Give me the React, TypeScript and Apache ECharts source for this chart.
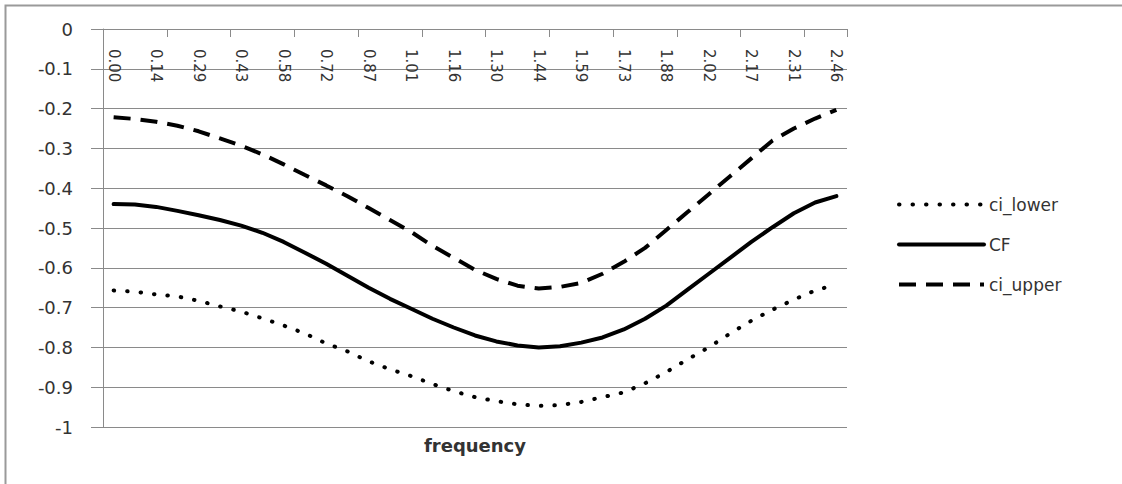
import React, { useEffect, useRef } from "react";
import * as echarts from "echarts";

const categories = [
  "0.00", "0.07", "0.14", "0.22", "0.29", "0.36", "0.43", "0.51", "0.58", "0.65",
  "0.72", "0.79", "0.87", "0.94", "1.01", "1.08", "1.16", "1.23", "1.30", "1.37",
  "1.44", "1.52", "1.59", "1.66", "1.73", "1.81", "1.88", "1.95", "2.02", "2.10",
  "2.17", "2.24", "2.31", "2.38", "2.46",
];

const ciLower = [
  -0.657, -0.66, -0.667, -0.672, -0.683, -0.697, -0.71, -0.727, -0.745, -0.765,
  -0.79, -0.81, -0.835, -0.855, -0.872, -0.892, -0.91, -0.925, -0.935, -0.943,
  -0.947, -0.945, -0.937, -0.925, -0.913, -0.89, -0.862, -0.83, -0.8, -0.765,
  -0.733, -0.705, -0.68, -0.657, -0.642,
];

const cf = [
  -0.44, -0.441, -0.447, -0.457, -0.468, -0.48, -0.494, -0.512, -0.535, -0.562,
  -0.59, -0.62, -0.65, -0.678, -0.703, -0.728, -0.75, -0.77, -0.785, -0.795,
  -0.8, -0.797, -0.788, -0.775, -0.755, -0.728, -0.695, -0.655, -0.615, -0.575,
  -0.535, -0.498, -0.463, -0.436, -0.42,
];

const ciUpper = [
  -0.222, -0.226, -0.233, -0.243, -0.257, -0.275, -0.293, -0.315, -0.34, -0.367,
  -0.393, -0.42, -0.45, -0.48, -0.51, -0.545, -0.575, -0.605, -0.628, -0.645,
  -0.652, -0.648, -0.638, -0.615, -0.585, -0.55, -0.505, -0.46, -0.415, -0.37,
  -0.325, -0.28, -0.25, -0.225, -0.203,
];

const FONT = "DejaVu Sans";
const GRID_COLOR = "#8a8a8a";
const TEXT_COLOR = "#333333";

export default function App() {
  const ref = useRef<HTMLDivElement>(null);

  useEffect(() => {
    if (!ref.current) return;
    const chart = echarts.init(ref.current, null, { renderer: "svg" });
    chart.setOption({
      animation: false,
      backgroundColor: "#ffffff",
      grid: { left: 103, right: 275, top: 29, bottom: 57, containLabel: false },
      xAxis: {
        type: "category",
        data: categories,
        position: "top",
        boundaryGap: true,
        axisLine: { show: true, onZero: false, lineStyle: { color: GRID_COLOR, width: 1 } },
        axisTick: { show: true, inside: true, length: 8, interval: 2, lineStyle: { color: GRID_COLOR } },
        axisLabel: {
          show: true,
          inside: true,
          rotate: 90,
          interval: 1,
          margin: 20,
          fontFamily: FONT,
          fontSize: 15,
          color: TEXT_COLOR,
        },
        splitLine: { show: false },
      },
      yAxis: {
        type: "value",
        min: -1,
        max: 0,
        interval: 0.1,
        axisLine: { show: true, lineStyle: { color: GRID_COLOR, width: 1 } },
        axisTick: { show: true, length: 12, lineStyle: { color: GRID_COLOR } },
        axisLabel: { margin: 30, fontFamily: FONT, fontSize: 18, color: TEXT_COLOR },
        splitLine: { show: true, lineStyle: { color: GRID_COLOR, width: 1 } },
      },
      legend: {
        orient: "vertical",
        left: 892,
        top: 191,
        itemWidth: 85,
        itemHeight: 14,
        itemGap: 23,
        itemStyle: { opacity: 0 },
        lineStyle: { width: 4 },
        textStyle: { fontFamily: FONT, fontSize: 17, color: TEXT_COLOR },
        data: ["ci_lower", "CF", "ci_upper"],
      },
      graphic: [
        {
          type: "rect",
          shape: { x: 5.5, y: 5.5, width: 1200, height: 600 },
          style: { fill: "none", stroke: "#9a9a9a", lineWidth: 2 },
          silent: true,
        },
        {
          type: "text",
          x: 475,
          y: 445,
          style: {
            text: "frequency",
            fontFamily: FONT,
            fontSize: 18,
            fontWeight: "bold",
            fill: TEXT_COLOR,
            align: "center",
            verticalAlign: "middle",
          },
        },
      ],
      series: [
        {
          name: "ci_lower",
          type: "line",
          data: ciLower,
          symbol: "none",
          lineStyle: { color: "#000", width: 4, type: [0.5, 13], cap: "round" },
          itemStyle: { color: "#000" },
        },
        {
          name: "CF",
          type: "line",
          data: cf,
          symbol: "none",
          lineStyle: { color: "#000", width: 4, type: "solid", cap: "round" },
          itemStyle: { color: "#000" },
        },
        {
          name: "ci_upper",
          type: "line",
          data: ciUpper,
          symbol: "none",
          lineStyle: { color: "#000", width: 4, type: [17, 10], cap: "butt" },
          itemStyle: { color: "#000" },
        },
      ],
    });
    return () => chart.dispose();
  }, []);

  return (
    <div
      ref={ref}
      style={{ position: "absolute", left: 0, top: 0, width: 1122, height: 484, background: "#fff" }}
    />
  );
}
